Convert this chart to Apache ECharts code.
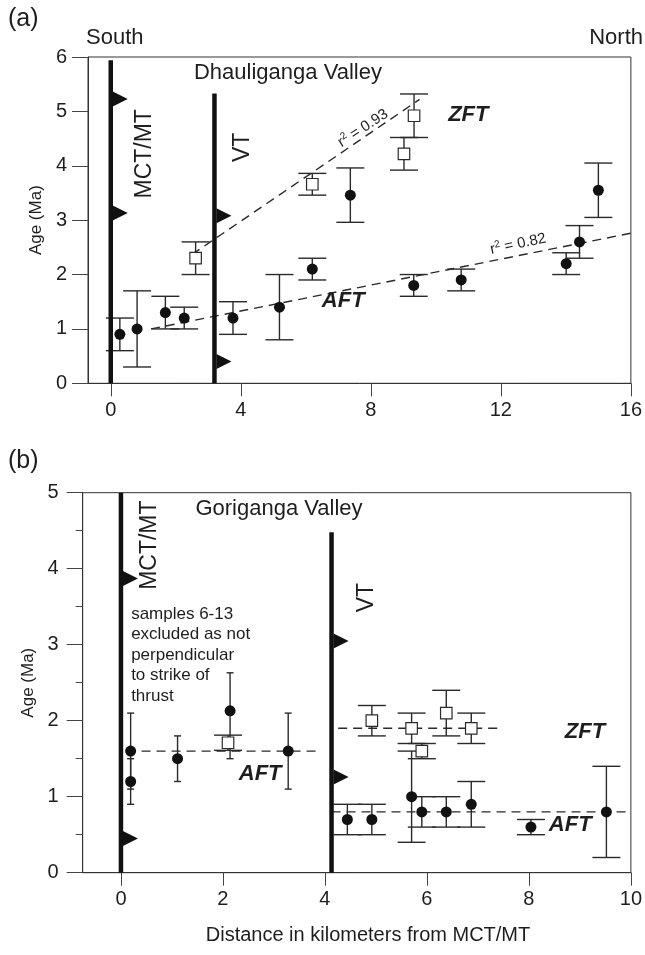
<!DOCTYPE html>
<html>
<head>
<meta charset="utf-8">
<script src="https://cdn.jsdelivr.net/npm/echarts@6/dist/echarts.min.js"></script>
<style>html,body{margin:0;padding:0;background:#fff}#c{width:645px;height:955px}</style>
</head>
<body>
<div id="c"></div>
<script>
// ---------- DATA ----------
const aTicksX = [0, 4, 8, 12, 16];
const bTicksX = [0, 2, 4, 6, 8, 10];
// [distance km, age Ma, minus, plus]
const aAFT = [
  [0.28, 0.9, 0.3, 0.3], [0.81, 1.0, 0.7, 0.7], [1.68, 1.3, 0.3, 0.3], [2.26, 1.2, 0.2, 0.2],
  [3.76, 1.2, 0.3, 0.3], [5.19, 1.4, 0.6, 0.6], [6.2, 2.1, 0.2, 0.2], [7.37, 3.46, 0.5, 0.5],
  [9.32, 1.8, 0.2, 0.2], [10.78, 1.9, 0.2, 0.2], [14.01, 2.2, 0.2, 0.2], [14.42, 2.6, 0.3, 0.3],
  [15.0, 3.55, 0.5, 0.5]
];
const aZFT = [[2.61, 2.3, 0.3, 0.3], [6.2, 3.66, 0.2, 0.2], [9.02, 4.22, 0.3, 0.3], [9.33, 4.92, 0.4, 0.4]];
const aAFTFit = [[1.24, 1.0], [16, 2.76]];
const aZFTFit = [[2.5, 2.37], [9.5, 5.22]];
const aMCT = [[0, 0], [0, 5.94]];
const aVT = [[3.19, 0], [3.19, 5.33]];
const aTeeth = [[0, 5.23], [0, 3.13], [3.19, 3.08], [3.19, 0.40]];

const bAFTLeft = [[0.19, 1.6, 0.5, 0.5], [0.19, 1.2, 0.3, 0.3], [1.11, 1.5, 0.3, 0.3], [2.14, 2.13, 0.63, 0.5], [3.28, 1.6, 0.5, 0.5]];
const bZFTLeft = [[2.10, 1.71, 0.1, 0.1]];
const bZFTRight = [[4.92, 2.0, 0.2, 0.2], [5.70, 1.9, 0.2, 0.2], [5.90, 1.6, 0.1, 0.1], [6.38, 2.1, 0.3, 0.3], [6.87, 1.9, 0.2, 0.2]];
const bAFTRight = [[4.44, 0.7, 0.2, 0.2], [4.92, 0.7, 0.2, 0.2], [5.70, 1.0, 0.6, 0.6], [5.90, 0.8, 0.2, 0.2],
  [6.38, 0.8, 0.2, 0.2], [6.87, 0.9, 0.3, 0.3], [8.04, 0.6, 0.1, 0.1], [9.52, 0.8, 0.6, 0.6]];
const bAFTMeanLeft = [[0.11, 1.6], [3.85, 1.6]];
const bZFTMeanRight = [[4.26, 1.9], [7.44, 1.9]];
const bAFTMeanRight = [[4.13, 0.8], [10, 0.8]];
const bMCT = [[0, 0], [0, 5]];
const bVT = [[4.13, 0], [4.13, 4.48]];
const bTeeth = [[0, 3.87], [0, 0.45], [4.13, 3.05], [4.13, 1.26]];

// ---------- BUILD ----------
const FONT = '"Liberation Sans", Arial, sans-serif';
const INK = '#1e1e1e';

function errBars(g, data, capHalf) {
  return {
    type: 'custom', xAxisIndex: g, yAxisIndex: g, silent: true, z: 3, clip: false,
    data: data.map(d => [d[0], d[1] - d[2], d[1] + d[3]]),
    encode: { x: 0, y: [1, 2] },
    renderItem: (params, api) => {
      const lo = api.coord([api.value(0), api.value(1)]);
      const hi = api.coord([api.value(0), api.value(2)]);
      const style = { stroke: '#2a2a2a', lineWidth: 1.4, fill: null };
      return { type: 'group', children: [
        { type: 'line', shape: { x1: lo[0], y1: lo[1], x2: hi[0], y2: hi[1] }, style },
        { type: 'line', shape: { x1: lo[0] - capHalf, y1: lo[1], x2: lo[0] + capHalf, y2: lo[1] }, style },
        { type: 'line', shape: { x1: hi[0] - capHalf, y1: hi[1], x2: hi[0] + capHalf, y2: hi[1] }, style }
      ]};
    }
  };
}
function dots(g, data) {
  return { type: 'scatter', xAxisIndex: g, yAxisIndex: g, silent: true, z: 5, symbol: 'circle', symbolSize: 11,
    itemStyle: { color: '#111', opacity: 1 }, data: data.map(d => [d[0], d[1]]) };
}
function squares(g, data) {
  return { type: 'scatter', xAxisIndex: g, yAxisIndex: g, silent: true, z: 6, symbol: 'rect', symbolSize: 11.5,
    itemStyle: { color: '#fff', borderColor: '#2a2a2a', borderWidth: 1.2, opacity: 1 }, data: data.map(d => [d[0], d[1]]) };
}
function dashed(g, data) {
  return { type: 'line', xAxisIndex: g, yAxisIndex: g, silent: true, z: 2, symbol: 'none', data,
    lineStyle: { type: [9, 6], color: '#2a2a2a', width: 1.4 } };
}
function fault(g, data) {
  return { type: 'line', xAxisIndex: g, yAxisIndex: g, silent: true, z: 4, symbol: 'none', data,
    lineStyle: { color: '#111', width: 4.5, cap: 'butt' } };
}
function teeth(g, data) {
  return { type: 'scatter', xAxisIndex: g, yAxisIndex: g, silent: true, z: 4,
    symbol: 'path://M0 0 L10 5 L0 10 Z', symbolSize: [15, 15], symbolOffset: [9.5, 0],
    itemStyle: { color: '#111', opacity: 1 }, data };
}
function txt(g, x, y, text, style) {
  return { type: 'scatter', xAxisIndex: g, yAxisIndex: g, silent: true, z: 10, symbolSize: 0,
    itemStyle: { opacity: 1 },
    data: [[x, y]],
    label: Object.assign({ show: true, position: [0, 0], formatter: text, color: INK, fontFamily: FONT,
      opacity: 1, align: 'center', verticalAlign: 'middle' }, style) };
}

function xAxis(g, min, max, ticks) {
  return { gridIndex: g, type: 'value', min, max,
    axisLine: { show: true, onZero: false, lineStyle: { color: '#333', width: 1 } },
    axisTick: { show: true, length: 13, customValues: ticks, lineStyle: { color: '#444' } },
    axisLabel: { customValues: ticks, fontSize: 20, color: INK, fontFamily: FONT, margin: 17 },
    splitLine: { show: false } };
}
function yAxis(g, max, gap, margin, minor) {
  return { gridIndex: g, type: 'value', min: 0, max, interval: 1,
    name: 'Age (Ma)', nameLocation: 'middle', nameGap: gap, nameRotate: 90,
    nameTextStyle: { fontSize: 17, color: INK, fontFamily: FONT },
    axisLine: { show: true, onZero: false, lineStyle: { color: '#333', width: 1 } },
    axisTick: { show: true, length: 16, lineStyle: { color: '#444' } },
    minorTick: { show: minor, splitNumber: 2, length: 7, lineStyle: { color: '#444' } },
    axisLabel: { fontSize: 20, color: INK, fontFamily: FONT, margin },
    splitLine: { show: false } };
}

const rich = { s: { fontSize: 10, padding: [0, 0, 8, 0], fontFamily: FONT, color: INK } };
const bold = { fontSize: 22, fontWeight: 'bold', fontStyle: 'italic' };

const option = {
  animation: false,
  backgroundColor: '#fff',
  grid: [
    { left: 88, top: 57, width: 549, height: 326.3, show: true, borderColor: '#333', borderWidth: 1, containLabel: false },
    { left: 82.7, top: 492.7, width: 549.6, height: 380, show: true, borderColor: '#333', borderWidth: 1, containLabel: false }
  ],
  xAxis: [xAxis(0, -0.7, 16, aTicksX), xAxis(1, -0.75, 10, bTicksX)],
  yAxis: [yAxis(0, 6, 38, 21, false), yAxis(1, 5, 33, 24, true)],
  graphic: [
    { type: 'text', x: 8, y: 19, style: { text: '(a)', fontSize: 25, fontFamily: FONT, fill: INK, verticalAlign: 'middle' } },
    { type: 'text', x: 86, y: 38, style: { text: 'South', fontSize: 22, fontFamily: FONT, fill: INK, verticalAlign: 'middle' } },
    { type: 'text', x: 643, y: 38, style: { text: 'North', fontSize: 22, fontFamily: FONT, fill: INK, align: 'right', verticalAlign: 'middle' } },
    { type: 'text', x: 8, y: 461, style: { text: '(b)', fontSize: 25, fontFamily: FONT, fill: INK, verticalAlign: 'middle' } },
    { type: 'text', x: 368, y: 935, style: { text: 'Distance in kilometers from MCT/MT', fontSize: 20, fontFamily: FONT, fill: INK, align: 'center', verticalAlign: 'middle' } }
  ],
  series: [
    // ---- panel (a)
    dashed(0, aAFTFit), dashed(0, aZFTFit),
    errBars(0, aAFT, 14), errBars(0, aZFT, 14),
    fault(0, aMCT), fault(0, aVT), teeth(0, aTeeth),
    dots(0, aAFT), squares(0, aZFT),
    txt(0, 2.56, 5.70, 'Dhauliganga Valley', { fontSize: 22, align: 'left' }),
    txt(0, 1.03, 4.22, 'MCT/MT', { fontSize: 23, rotate: 90 }),
    txt(0, 4.05, 4.34, 'VT', { fontSize: 23, rotate: 90 }),
    txt(0, 11.0, 4.93, 'ZFT', bold),
    txt(0, 7.15, 1.51, 'AFT', bold),
    txt(0, 7.76, 4.69, 'r{s|2} = 0.93', { fontSize: 15, rotate: 33, rich }),
    txt(0, 12.53, 2.56, 'r{s|2} = 0.82', { fontSize: 15, rotate: 12, rich }),
    // ---- panel (b)
    dashed(1, bAFTMeanLeft), dashed(1, bZFTMeanRight), dashed(1, bAFTMeanRight),
    errBars(1, bAFTLeft, 3.5), errBars(1, bZFTLeft, 14), errBars(1, bZFTRight, 14), errBars(1, bAFTRight, 14),
    fault(1, bMCT), fault(1, bVT), teeth(1, bTeeth),
    dots(1, bAFTLeft), dots(1, bAFTRight), squares(1, bZFTLeft), squares(1, bZFTRight),
    txt(1, 1.46, 4.79, 'Goriganga Valley', { fontSize: 22, align: 'left' }),
    txt(1, 0.57, 4.31, 'MCT/MT', { fontSize: 23, rotate: 90 }),
    txt(1, 4.81, 3.62, 'VT', { fontSize: 23, rotate: 90 }),
    txt(1, 0.2, 3.54, 'samples 6-13\nexcluded as not\nperpendicular\nto strike of\nthrust', { fontSize: 17, lineHeight: 20.5, align: 'left', verticalAlign: 'top' }),
    txt(1, 9.10, 1.85, 'ZFT', bold),
    txt(1, 8.81, 0.63, 'AFT', bold),
    txt(1, 2.73, 1.30, 'AFT', bold)
  ]
};

const chart = echarts.init(document.getElementById('c'), null, { renderer: 'canvas' });
chart.setOption(option);
</script>
</body>
</html>
